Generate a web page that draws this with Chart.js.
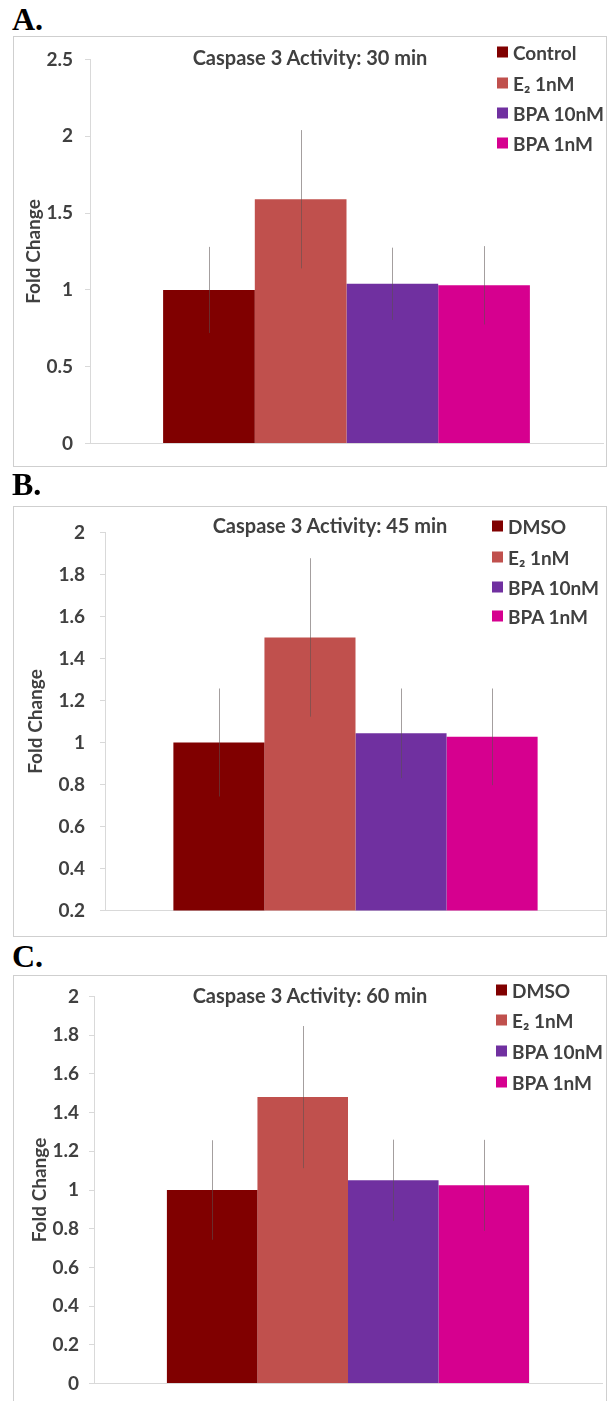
<!DOCTYPE html>
<html><head><meta charset="utf-8">
<script src="https://cdn.jsdelivr.net/npm/chart.js@4.4.1/dist/chart.umd.min.js"></script>
<style>
html,body{margin:0;padding:0;background:#fff;}
#root{position:relative;width:608px;height:1401px;overflow:hidden;background:#fff;}
.abs{position:absolute;}
.letter{font-family:'Liberation Serif','Times New Roman',serif;font-weight:bold;font-size:32px;color:#000;line-height:1;white-space:nowrap;}
.frame{border:1px solid #cfcfcf;box-sizing:border-box;}
.title{font-family:Lato,sans-serif;font-weight:700;font-size:20px;color:#404040;white-space:nowrap;transform:translate(-50%,-50%);line-height:1;}
.leg{font-family:Lato,sans-serif;font-weight:700;font-size:19px;color:#404040;white-space:nowrap;line-height:1;display:flex;align-items:center;transform:translateY(-50%);}
.sw{display:inline-block;width:11px;height:11px;margin-right:5px;}
</style></head><body><div id="root"></div>
<script>
// ---------- data ----------
const categories = [''];
const panelLetters = ['A.', 'B.', 'C.'];
const panelTitles = ['Caspase 3 Activity: 30 min', 'Caspase 3 Activity: 45 min', 'Caspase 3 Activity: 60 min'];
const yAxisTitle = 'Fold Change';
const seriesLabelsA = ['Control', 'E\u2082 1nM', 'BPA 10nM', 'BPA 1nM'];
const seriesLabelsBC = ['DMSO', 'E\u2082 1nM', 'BPA 10nM', 'BPA 1nM'];
const seriesColors = ['#800000', '#c0504d', '#7030a0', '#d6008f'];

const valuesA = [1.00, 1.59, 1.04, 1.03];
const errorsA = [0.28, 0.45, 0.235, 0.255];
const valuesB = [1.00, 1.50, 1.044, 1.027];
const errorsB = [0.257, 0.377, 0.213, 0.23];
const valuesC = [1.00, 1.48, 1.05, 1.024];
const errorsC = [0.257, 0.367, 0.21, 0.235];

const ticksA = [0, 0.5, 1, 1.5, 2, 2.5];
const tickLabelsA = ['0', '0.5', '1', '1.5', '2', '2.5'];
const ticksB = [0.2, 0.4, 0.6, 0.8, 1, 1.2, 1.4, 1.6, 1.8, 2];
const tickLabelsB = ['0.2', '0.4', '0.6', '0.8', '1', '1.2', '1.4', '1.6', '1.8', '2'];
const ticksC = [0, 0.2, 0.4, 0.6, 0.8, 1, 1.2, 1.4, 1.6, 1.8, 2];
const tickLabelsC = ['0', '0.2', '0.4', '0.6', '0.8', '1', '1.2', '1.4', '1.6', '1.8', '2'];

// ---------- layout (positions / styles) ----------
const layouts = [
  {letterX: 12, letterY: 3, frame: {x: 13, y: 36, w: 594, h: 431}, pad: {left: 5, top: 15, right: 4, bottom: 12}, yWidth: 72, tickPad: 12, catPct: 0.715, titleX: 310, titleY: 57, legX: 497, legY: [52, 83, 113, 143]},
  {letterX: 12, letterY: 468, frame: {x: 13, y: 506, w: 594, h: 431}, pad: {left: 7, top: 15, right: 1, bottom: 14}, yWidth: 85, tickPad: 15, catPct: 0.727, titleX: 330, titleY: 525, legX: 492, legY: [526, 557, 587, 616]},
  {letterX: 12, letterY: 940, frame: {x: 13, y: 975, w: 594, h: 430}, pad: {left: 11, top: 13, right: 5, bottom: 13}, yWidth: 70, tickPad: 10, catPct: 0.713, titleX: 310, titleY: 995, legX: 496, legY: [990, 1020, 1051, 1082]}
];

const panels = [
  {labels: seriesLabelsA, values: valuesA, errors: errorsA, ticks: ticksA, tickLabels: tickLabelsA},
  {labels: seriesLabelsBC, values: valuesB, errors: errorsB, ticks: ticksB, tickLabels: tickLabelsB},
  {labels: seriesLabelsBC, values: valuesC, errors: errorsC, ticks: ticksC, tickLabels: tickLabelsC}
];

const errorBarPlugin = {
  id: 'errorBars',
  afterDatasetsDraw(chart) {
    const ctx = chart.ctx;
    const yScale = chart.scales.y;
    ctx.save();
    ctx.beginPath();
    ctx.rect(chart.chartArea.left, chart.chartArea.top - 20, chart.chartArea.width, chart.chartArea.height + 20);
    ctx.clip();
    chart.data.datasets.forEach((ds, i) => {
      const meta = chart.getDatasetMeta(i);
      meta.data.forEach((bar, j) => {
        const v = ds.data[j], e = ds.errors[j];
        const yTop = yScale.getPixelForValue(v + e);
        const yBot = yScale.getPixelForValue(v - e);
        const x = Math.round(bar.x) + 0.5;
        ctx.strokeStyle = 'rgba(90,80,80,0.55)';
        ctx.lineWidth = 1;
        ctx.beginPath();
        ctx.moveTo(x, yTop);
        ctx.lineTo(x, yBot);
        ctx.stroke();
      });
    });
    ctx.restore();
  }
};

const root = document.getElementById('root');
function el(cls, css, html) {
  const d = document.createElement('div');
  d.className = cls;
  Object.assign(d.style, css);
  if (html !== undefined) d.textContent = html;
  root.appendChild(d);
  return d;
}

panels.forEach((P, k) => {
  const L = layouts[k];
  el('abs letter', {left: L.letterX + 'px', top: L.letterY + 'px'}, panelLetters[k]);
  el('abs frame', {left: L.frame.x + 'px', top: L.frame.y + 'px', width: L.frame.w + 'px', height: L.frame.h + 'px'});
  const cv = document.createElement('canvas');
  cv.width = L.frame.w; cv.height = L.frame.h;
  Object.assign(cv.style, {position: 'absolute', left: L.frame.x + 'px', top: L.frame.y + 'px', width: L.frame.w + 'px', height: L.frame.h + 'px'});
  root.appendChild(cv);

  const datasets = P.labels.map((lab, i) => ({
    label: lab,
    data: [P.values[i]],
    errors: [P.errors[i]],
    backgroundColor: seriesColors[i],
    borderWidth: 0,
    barPercentage: 1,
    categoryPercentage: L.catPct
  }));

  new Chart(cv, {
    type: 'bar',
    data: {labels: categories, datasets},
    options: {
      responsive: false,
      animation: false,
      devicePixelRatio: 1,
      layout: {padding: L.pad},
      plugins: {legend: {display: false}, title: {display: false}, tooltip: {enabled: false}},
      scales: {
        x: {
          grid: {display: false, drawTicks: false},
          border: {display: true, color: '#d9d9d9', width: 1},
          ticks: {display: false},
          afterFit(s) { s.height = 0; }
        },
        y: {
          min: P.ticks[0],
          max: P.ticks[P.ticks.length - 1],
          afterBuildTicks(s) { s.ticks = P.ticks.map(v => ({value: v})); },
          ticks: {
            font: {family: 'Lato', weight: 'bold', size: 19},
            color: '#404040',
            padding: L.tickPad,
            callback: (v, i) => P.tickLabels[i]
          },
          grid: {drawOnChartArea: false, drawTicks: true, tickLength: 5, color: '#d9d9d9'},
          border: {display: true, color: '#d9d9d9', width: 1},
          title: {display: true, text: yAxisTitle, font: {family: 'Lato', weight: 'bold', size: 19}, color: '#404040', padding: {top: 4, bottom: 4}},
          afterFit(s) { s.width = L.yWidth; }
        }
      }
    },
    plugins: [errorBarPlugin]
  });

  el('abs title', {left: L.titleX + 'px', top: L.titleY + 'px'}, panelTitles[k]);
  P.labels.forEach((lab, i) => {
    const row = el('abs leg', {left: L.legX + 'px', top: L.legY[i] + 'px'});
    const sw = document.createElement('span');
    sw.className = 'sw';
    sw.style.background = seriesColors[i];
    row.appendChild(sw);
    const t = document.createElement('span');
    t.textContent = lab;
    row.appendChild(t);
  });
});
</script></body></html>
